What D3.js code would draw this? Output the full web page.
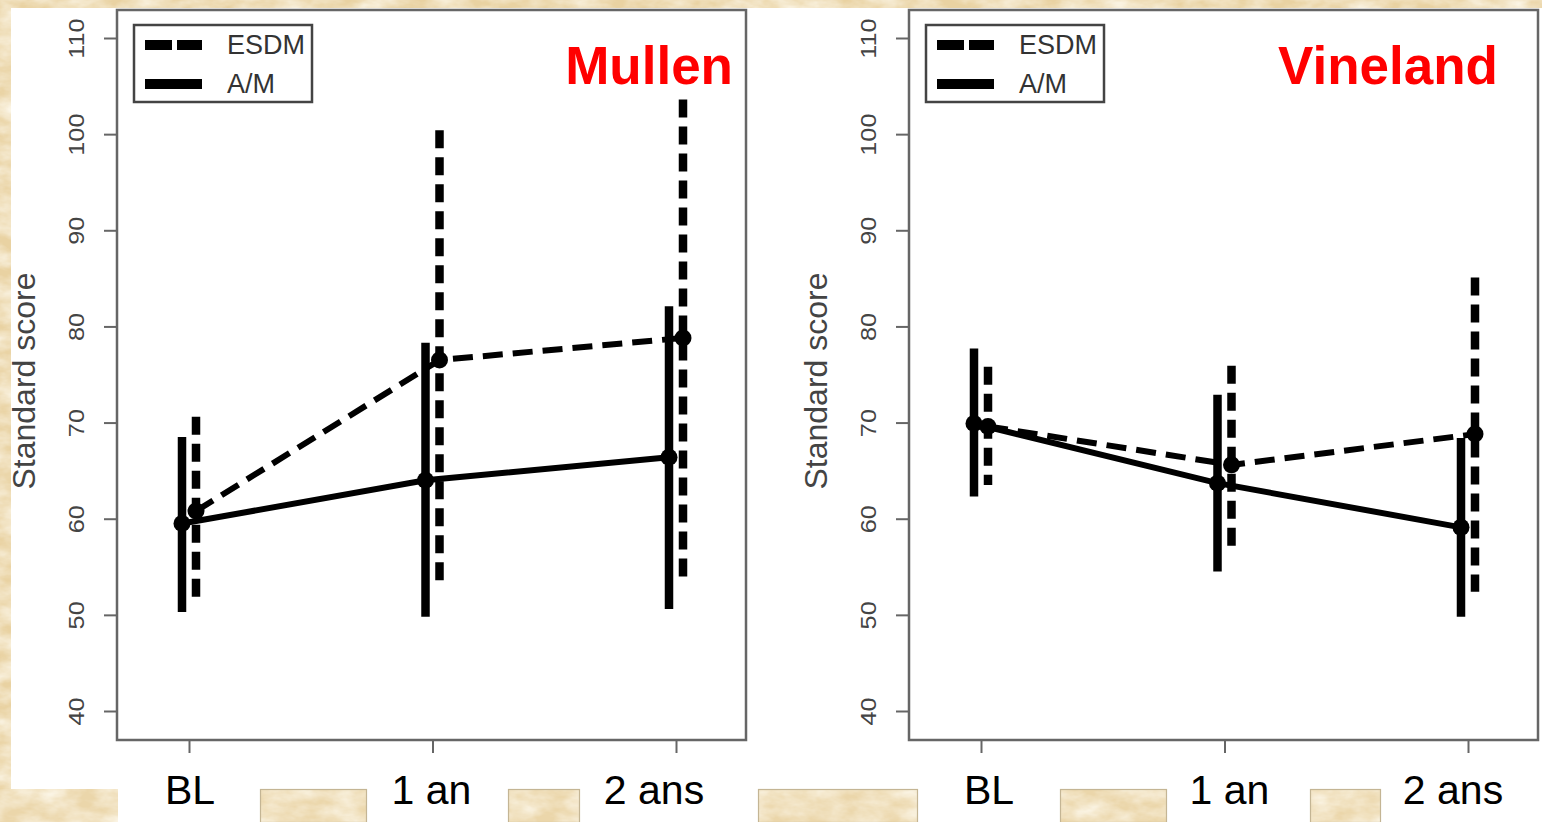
<!DOCTYPE html>
<html>
<head>
<meta charset="utf-8">
<script src="https://cdn.jsdelivr.net/npm/d3@7"></script>
<style>
  body { margin: 0; background: #e9d2a2; }
  svg { display: block; font-family: "Liberation Sans", Arial, sans-serif; }
</style>
</head>
<body>
<div id="chart"></div>
<script>
// Time points and y ticks
const timepoints = ['BL', '1 an', '2 ans'];
const yTicks = [40, 50, 60, 70, 80, 90, 100, 110];
const groups = ['ESDM', 'A/M'];

// Mullen - ESDM (dashed)
const mullenEsdmMean = [60.8, 76.5, 78.8];
const mullenEsdmLow = [51.3, 53.6, 54.0];
const mullenEsdmHigh = [70.6, 100.4, 103.6];
// Mullen - A/M (solid)
const mullenAmMean = [59.5, 64.0, 66.4];
const mullenAmLow = [50.3, 49.8, 50.6];
const mullenAmHigh = [68.5, 78.3, 82.1];

// Vineland - ESDM (dashed)
const vinelandEsdmMean = [69.6, 65.6, 68.8];
const vinelandEsdmLow = [63.5, 56.5, 52.4];
const vinelandEsdmHigh = [75.8, 75.9, 85.1];
// Vineland - A/M (solid)
const vinelandAmMean = [69.9, 63.7, 59.1];
const vinelandAmLow = [62.3, 54.5, 49.8];
const vinelandAmHigh = [77.7, 72.9, 68.4];

const W = 1542, H = 822;

const svg = d3.select('#chart').append('svg')
    .attr('width', W)
    .attr('height', H);

// parchment texture
const defs = svg.append('defs');
const paper = defs.append('filter').attr('id', 'paper')
    .attr('x', 0).attr('y', 0).attr('width', '100%').attr('height', '100%');
paper.append('feTurbulence')
    .attr('type', 'fractalNoise')
    .attr('baseFrequency', '0.03 0.06')
    .attr('numOctaves', 4)
    .attr('seed', 3);
paper.append('feColorMatrix')
    .attr('type', 'matrix')
    .attr('values', '0 0 0 0 0.97  0 0 0 0 0.92  0 0 0 0 0.80  1.6 0 0 0 -0.45');

svg.append('rect').attr('width', W).attr('height', H).attr('fill', '#e9d2a2');
svg.append('rect').attr('width', W).attr('height', H).attr('filter', 'url(#paper)');

// white slide area
svg.append('rect')
    .attr('x', 11).attr('y', 8)
    .attr('width', W - 11).attr('height', H - 8)
    .attr('fill', '#fff');

// parchment gaps between the label boxes at the bottom
const gaps = [[0, 118], [260, 367], [508, 580], [758, 918], [1060, 1167], [1310, 1381]];
const gapClip = defs.append('clipPath').attr('id', 'gapclip');
gaps.forEach(g => {
    gapClip.append('rect').attr('x', g[0]).attr('y', 789).attr('width', g[1] - g[0]).attr('height', H - 789);
});
svg.append('rect').attr('width', W).attr('height', H)
    .attr('fill', '#ebd6aa').attr('clip-path', 'url(#gapclip)');
svg.append('rect').attr('width', W).attr('height', H)
    .attr('filter', 'url(#paper)').attr('clip-path', 'url(#gapclip)');
svg.selectAll('.gap')
    .data(gaps.slice(1))
    .enter()
    .append('rect')
    .attr('class', 'gap')
    .attr('x', d => d[0] + 0.5).attr('y', 789.5)
    .attr('width', d => d[1] - d[0] - 1).attr('height', H - 789)
    .attr('fill', 'none')
    .attr('stroke', '#c4b594')
    .attr('stroke-width', 1.2);

const panels = [
    {
        title: 'Mullen', left: 117, right: 746, titleEnd: 733, labelShift: [1, -1, -22],
        esdm: { mean: mullenEsdmMean, low: mullenEsdmLow, high: mullenEsdmHigh },
        am: { mean: mullenAmMean, low: mullenAmLow, high: mullenAmHigh }
    },
    {
        title: 'Vineland', left: 909, right: 1538, titleEnd: 1498, labelShift: [8, 5, -15],
        esdm: { mean: vinelandEsdmMean, low: vinelandEsdmLow, high: vinelandEsdmHigh },
        am: { mean: vinelandAmMean, low: vinelandAmLow, high: vinelandAmHigh }
    }
];

const plotTop = 10, plotBottom = 740;
const y = d3.scaleLinear().domain([40, 110]).range([711, 38]);

panels.forEach(p => {
    const g = svg.append('g');
    const x = d3.scalePoint().domain(timepoints).range([p.left + 72, p.right - 70]);
    const offset = { esdm: 7, am: -7 };

    // y axis
    const yAxis = g.append('g')
        .attr('transform', `translate(${p.left},0)`)
        .call(d3.axisLeft(y).tickValues(yTicks).tickSize(13).tickPadding(0));
    yAxis.select('.domain').remove();
    yAxis.selectAll('.tick line').attr('stroke', '#666').attr('stroke-width', 2);
    yAxis.selectAll('.tick text')
        .attr('transform', 'rotate(-90) scale(1.15,1)')
        .attr('x', 0).attr('y', -33).attr('dy', 0)
        .style('text-anchor', 'middle')
        .style('font-size', '22px')
        .attr('fill', '#444');

    // x axis ticks
    const xAxis = g.append('g')
        .attr('transform', `translate(0,${plotBottom})`)
        .call(d3.axisBottom(x).tickSize(13).tickFormat(''));
    xAxis.select('.domain').remove();
    xAxis.selectAll('.tick line').attr('stroke', '#666').attr('stroke-width', 2);

    // frame
    g.append('rect')
        .attr('x', p.left).attr('y', plotTop)
        .attr('width', p.right - p.left).attr('height', plotBottom - plotTop)
        .attr('fill', 'none')
        .attr('stroke', '#666')
        .attr('stroke-width', 2.5);

    // y title
    g.append('text')
        .attr('transform', `translate(${p.left - 82},${(plotTop + plotBottom) / 2 + 6}) rotate(-90)`)
        .style('text-anchor', 'middle')
        .style('font-size', '32px')
        .attr('fill', '#444')
        .text('Standard score');

    // x labels
    g.selectAll('.xlab')
        .data(timepoints)
        .enter()
        .append('text')
        .attr('class', 'xlab')
        .attr('x', (d, i) => x(d) + p.labelShift[i])
        .attr('y', 804)
        .style('text-anchor', 'middle')
        .style('font-size', '41px')
        .attr('fill', '#000')
        .text(d => d);

    // series
    const series = [
        { key: 'am', dash: null, data: p.am },
        { key: 'esdm', dash: '18,9', data: p.esdm }
    ];
    series.forEach(s => {
        const pts = timepoints.map((t, i) => ({
            x: x(t) + offset[s.key],
            mean: s.data.mean[i], low: s.data.low[i], high: s.data.high[i]
        }));
        g.selectAll('.bar-' + s.key)
            .data(pts)
            .enter()
            .append('line')
            .attr('x1', d => d.x).attr('x2', d => d.x)
            .attr('y1', d => y(d.high)).attr('y2', d => y(d.low))
            .attr('stroke', '#000')
            .attr('stroke-width', 8.5)
            .attr('stroke-dasharray', s.dash);
    });
    series.forEach(s => {
        const pts = timepoints.map((t, i) => [x(t) + offset[s.key], y(s.data.mean[i])]);
        g.append('path')
            .attr('d', d3.line()(pts))
            .attr('fill', 'none')
            .attr('stroke', '#000')
            .attr('stroke-width', 6)
            .attr('stroke-dasharray', s.dash ? '20,10' : null);
        g.selectAll('.pt-' + s.key)
            .data(pts)
            .enter()
            .append('circle')
            .attr('cx', d => d[0]).attr('cy', d => d[1])
            .attr('r', 8.5)
            .attr('fill', '#000');
    });

    // legend
    const lg = g.append('g').attr('transform', `translate(${p.left + 17},${plotTop + 15})`);
    lg.append('rect')
        .attr('width', 178).attr('height', 77)
        .attr('fill', '#fff')
        .attr('stroke', '#444')
        .attr('stroke-width', 2.5);
    const legendItems = lg.selectAll('.li')
        .data(groups)
        .enter()
        .append('g')
        .attr('transform', (d, i) => `translate(0,${20 + i * 39})`);
    legendItems.append('line')
        .attr('x1', 11).attr('x2', 68)
        .attr('stroke', '#000')
        .attr('stroke-width', 10)
        .attr('stroke-dasharray', d => d === 'ESDM' ? '27,5' : null);
    legendItems.append('text')
        .attr('x', 93).attr('y', 9)
        .style('font-size', '27px')
        .attr('fill', '#333')
        .text(d => d);

    // panel title
    g.append('text')
        .attr('x', p.titleEnd)
        .attr('y', 84)
        .style('text-anchor', 'end')
        .style('font-size', '53px')
        .style('font-weight', 'bold')
        .attr('fill', '#ff0000')
        .text(p.title);
});
</script>
</body>
</html>
